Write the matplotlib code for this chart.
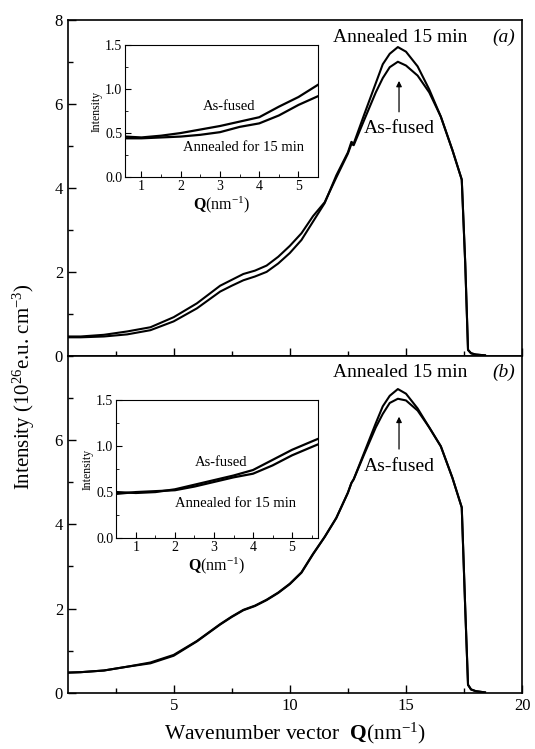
import numpy
import matplotlib
matplotlib.use('Agg')
from matplotlib import pyplot as plt
from matplotlib.ticker import MultipleLocator

matplotlib.rcParams.update({
  'font.family'      : 'Liberation Serif',
  'mathtext.fontset' : 'custom',
  'mathtext.rm'      : 'Liberation Serif',
  'mathtext.it'      : 'Liberation Serif:italic',
  'mathtext.bf'      : 'Liberation Serif:bold',
  'font.size'        : 11.5,
})

# ---- main panels: wavenumber Q (nm^-1) ----
q_main = [0.45, 1.0, 2.0, 3.0, 4.0, 5.0, 6.0, 7.0, 7.5, 8.0, 8.5, 9.0, 9.5, 10.0,
          10.5, 11.0, 11.5, 12.0, 12.5, 12.65, 12.75, 13.2, 13.7, 14.0, 14.3, 14.65,
          15.0, 15.5, 16.0, 16.5, 17.0, 17.4, 17.55, 17.67, 17.8, 18.0, 18.4]

# panel (a)
a_annealed = [0.44, 0.44, 0.46, 0.51, 0.61, 0.82, 1.13, 1.53, 1.67, 1.80, 1.89, 2.00, 2.20, 2.45,
              2.76, 3.20, 3.64, 4.30, 4.85, 5.10, 5.06, 5.75, 6.50, 6.95, 7.20, 7.36,
              7.25, 6.90, 6.35, 5.70, 4.90, 4.20, 2.20, 0.14, 0.06, 0.03, 0.01]
a_asfused  = [0.46, 0.46, 0.50, 0.58, 0.68, 0.92, 1.25, 1.67, 1.81, 1.95, 2.03, 2.15, 2.36, 2.62,
              2.92, 3.33, 3.66, 4.25, 4.82, 5.05, 5.02, 5.62, 6.28, 6.62, 6.88, 7.01,
              6.92, 6.68, 6.28, 5.70, 4.90, 4.20, 2.20, 0.14, 0.06, 0.03, 0.01]

# panel (b)
b_annealed = [0.48, 0.49, 0.53, 0.62, 0.70, 0.88, 1.22, 1.62, 1.80, 1.96, 2.06, 2.20, 2.37, 2.58,
              2.85, 3.29, 3.70, 4.15, 4.75, 4.98, 5.07, 5.70, 6.40, 6.80, 7.05, 7.21,
              7.10, 6.75, 6.30, 5.85, 5.10, 4.40, 2.00, 0.19, 0.08, 0.04, 0.01]
b_asfused  = [0.48, 0.49, 0.53, 0.62, 0.72, 0.90, 1.23, 1.63, 1.81, 1.97, 2.07, 2.21, 2.38, 2.59,
              2.86, 3.30, 3.70, 4.15, 4.75, 4.98, 5.07, 5.66, 6.30, 6.62, 6.88, 6.98,
              6.94, 6.70, 6.30, 5.85, 5.10, 4.40, 2.00, 0.19, 0.08, 0.04, 0.01]

# ---- insets: low-Q region ----
q_inset_a        = [0.58, 1.0, 1.5, 2.0, 2.5, 3.0, 3.5, 4.0, 4.5, 5.0, 5.5]
inset_a_asfused  = [0.46, 0.45, 0.47, 0.50, 0.54, 0.58, 0.63, 0.68, 0.80, 0.91, 1.05]
inset_a_annealed = [0.44, 0.44, 0.45, 0.46, 0.48, 0.51, 0.57, 0.61, 0.70, 0.82, 0.92]

q_inset_b        = [0.5, 1.0, 1.5, 2.0, 2.5, 3.0, 3.5, 4.0, 4.5, 5.0, 5.5, 5.67]
inset_b_asfused  = [0.50, 0.49, 0.50, 0.53, 0.58, 0.63, 0.68, 0.74, 0.85, 0.96, 1.05, 1.08]
inset_b_annealed = [0.48, 0.50, 0.51, 0.52, 0.56, 0.61, 0.66, 0.70, 0.79, 0.90, 0.99, 1.02]

LW = 1.5

fig = plt.figure(figsize=(5.35, 7.49), dpi=100)
axTop = fig.add_axes([0.127, 0.525, 0.849, 0.448])
axBot = fig.add_axes([0.127, 0.075, 0.849, 0.450])

panels = [
  (axTop, a_annealed, a_asfused, '(a)', 5.43, (5.75, 6.62)),
  (axBot, b_annealed, b_asfused, '(b)', 5.38, (5.72, 6.62)),
]

for ax, ann, fus, tag, fusY, arrY in panels:
  ax.plot(q_main, ann, '-k', lw=LW)
  ax.plot(q_main, fus, '-k', lw=LW)
  ax.set_xlim(0.45, 20)
  ax.set_ylim(0, 8)
  ax.xaxis.set_major_locator(MultipleLocator(5))
  ax.xaxis.set_minor_locator(MultipleLocator(2.5))
  ax.yaxis.set_major_locator(MultipleLocator(2))
  ax.yaxis.set_minor_locator(MultipleLocator(1))
  ax.tick_params(which='both', direction='in', top=False, right=False, labelsize=12)
  ax.tick_params(which='major', length=6, width=1.0)
  ax.tick_params(which='minor', length=3.5, width=1.0)
  for s in ax.spines.values():
    s.set_linewidth(1.2)
  ax.text(14.75, 7.6, 'Annealed 15 min', ha='center', va='center', fontsize=14)
  ax.text(19.2, 7.6, tag, ha='center', va='center', fontsize=14, style='italic')
  ax.text(14.7, fusY, 'As-fused', ha='center', va='center', fontsize=14)
  ax.annotate('', xy=(14.7, arrY[1]), xytext=(14.7, arrY[0]),
    arrowprops=dict(arrowstyle='-|>', color='k', lw=0.9, mutation_scale=8))

axTop.tick_params(axis='x', labelbottom=False)
axBot.set_yticks([0, 2, 4, 6])
axBot.set_xlabel(r'Wavenumber vector  $\mathbf{Q}$(nm$^{-1}$)', fontsize=15.5, labelpad=5)
fig.text(0.045, 0.483, r'Intensity (10$^{26}$e.u. cm$^{-3}$)', rotation=90,
         ha='center', va='center', fontsize=15)

# insets
insets = [
  ([0.2336, 0.7637, 0.361, 0.176], q_inset_a, inset_a_asfused, inset_a_annealed,
   (0.58, 5.5), (3.24, 0.80), (3.6, 0.34)),
  ([0.2168, 0.2817, 0.378, 0.184], q_inset_b, inset_b_asfused, inset_b_annealed,
   (0.49, 5.67), (3.19, 0.82), (3.56, 0.38)),
]
for rect, qi, fus, ann, xl, fusPos, annPos in insets:
  axi = fig.add_axes(rect)
  axi.plot(qi, fus, '-k', lw=1.6)
  axi.plot(qi, ann, '-k', lw=1.6)
  axi.set_xlim(*xl)
  axi.set_ylim(0, 1.5)
  axi.xaxis.set_major_locator(MultipleLocator(1))
  axi.xaxis.set_minor_locator(MultipleLocator(0.5))
  axi.yaxis.set_major_locator(MultipleLocator(0.5))
  axi.yaxis.set_minor_locator(MultipleLocator(0.25))
  axi.yaxis.set_major_formatter('{x:.1f}')
  axi.tick_params(which='both', direction='in', top=False, right=False, labelsize=10, pad=2)
  axi.tick_params(which='major', length=4)
  axi.tick_params(which='minor', length=2)
  axi.set_ylabel('Intensity', fontsize=8.5, labelpad=2)
  axi.set_xlabel(r'$\mathbf{Q}$(nm$^{-1}$)', fontsize=11.5, labelpad=1)
  axi.text(fusPos[0], fusPos[1], 'As-fused', ha='center', va='center', fontsize=10.5)
  axi.text(annPos[0], annPos[1], 'Annealed for 15 min', ha='center', va='center', fontsize=10.5)

fig.savefig('out.png', dpi=100)
